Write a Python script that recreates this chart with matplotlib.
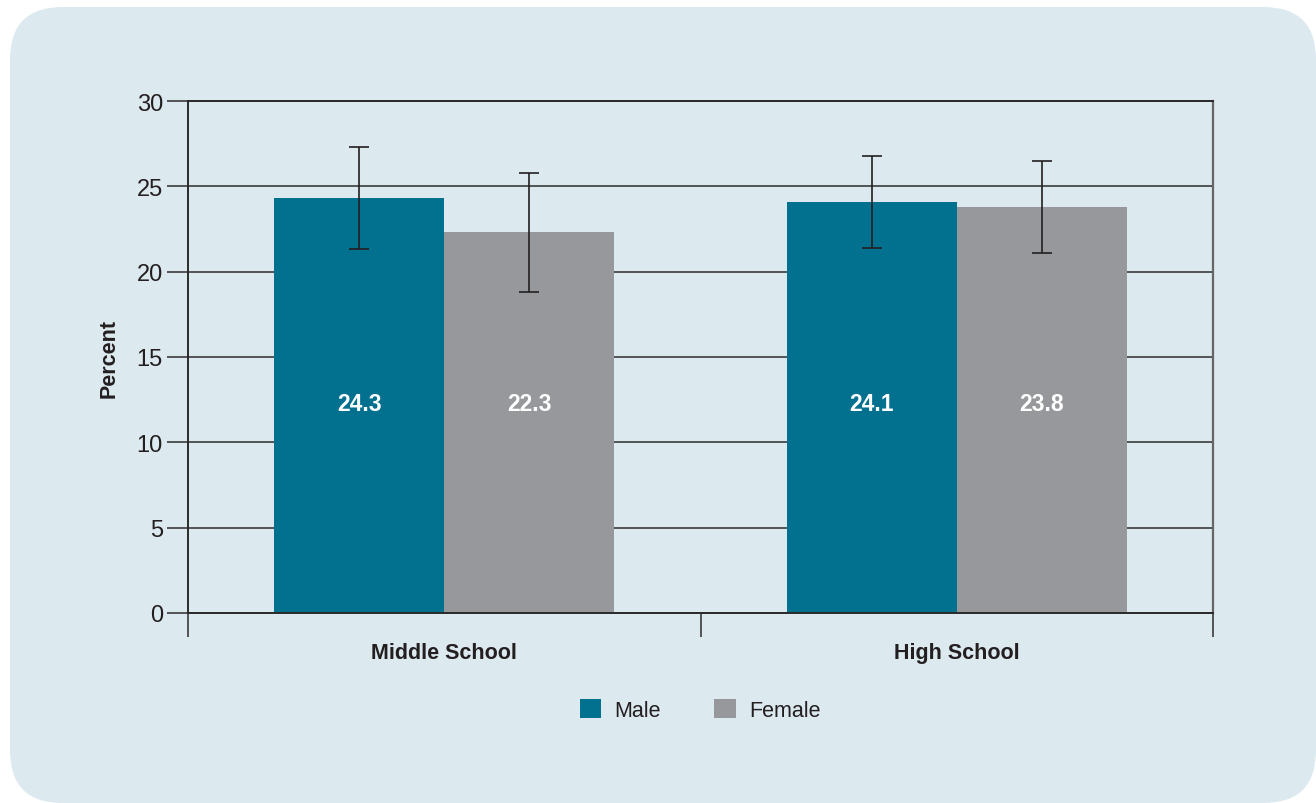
import matplotlib
matplotlib.use("Agg")
import matplotlib.pyplot as plt
from matplotlib.patches import FancyBboxPatch, Patch
import numpy as np

categories = ["Middle School", "High School"]
series_names = ["Male", "Female"]
male_values = [24.3, 24.1]
female_values = [22.3, 23.8]
male_err_low = [21.3, 21.4]
male_err_high = [27.3, 26.8]
female_err_low = [18.8, 21.1]
female_err_high = [25.8, 26.5]
y_ticks = [0, 5, 10, 15, 20, 25, 30]

male_color = "#02708f"
female_color = "#97989c"
bg_color = "#dce9ef"
text_color = "#231f20"

plt.rcParams['font.family'] = ['Liberation Sans', 'DejaVu Sans']

fig = plt.figure(figsize=(13.16, 8.04), dpi=100)
fig.patch.set_facecolor("white")
bg = FancyBboxPatch((10/1316, 0.0), (1306)/1316, (796)/804,
                    boxstyle="round,pad=0,rounding_size=0.04",
                    transform=fig.transFigure, facecolor=bg_color,
                    edgecolor="none", zorder=-10, mutation_aspect=1316/804)
fig.patches.append(bg)

ax = fig.add_axes([188/1316, 1 - 614/804, (1213-188)/1316, (614-102)/804])
ax.set_facecolor("none")

x = np.arange(len(categories))
w = 0.332
ax.bar(x - w/2, male_values, width=w, color=male_color, zorder=2)
ax.bar(x + w/2, female_values, width=w, color=female_color, zorder=2)

m = np.array(male_values)
f = np.array(female_values)
ax.errorbar(x - w/2, m, yerr=[m - np.array(male_err_low), np.array(male_err_high) - m],
            fmt="none", ecolor=text_color, elinewidth=1.2, capsize=7, capthick=1.2, zorder=3)
ax.errorbar(x + w/2, f, yerr=[f - np.array(female_err_low), np.array(female_err_high) - f],
            fmt="none", ecolor=text_color, elinewidth=1.2, capsize=7, capthick=1.2, zorder=3)

for xi, v in zip(x - w/2, male_values):
    ax.text(xi, 12.3, f"{v:.1f}", ha="center", va="center", color="white",
            fontsize=16.5, fontweight="bold", zorder=4)
for xi, v in zip(x + w/2, female_values):
    ax.text(xi, 12.3, f"{v:.1f}", ha="center", va="center", color="white",
            fontsize=16.5, fontweight="bold", zorder=4)

ax.set_xlim(-0.5, 1.5)
ax.set_ylim(0, 30)
ax.set_yticks(y_ticks)
ax.set_yticklabels([str(t) for t in y_ticks], fontsize=17, color=text_color)
ax.yaxis.grid(True, color="#3a3a3a", linewidth=1.2, zorder=0)
ax.set_axisbelow(True)
ax.tick_params(axis="y", length=15, width=1.2, color="#3a3a3a", pad=3)

ax.set_xticks([-0.5, 0.5, 1.5])
ax.set_xticklabels(["", "", ""])
ax.tick_params(axis="x", length=17, width=1.2, color="#3a3a3a")
for xi, c in zip(x, categories):
    ax.text(xi, -2.3, c, ha="center", va="center", fontsize=15.5, fontweight="bold",
            color=text_color)

for s in ["left", "bottom", "top"]:
    ax.spines[s].set_color("#2a2a2a")
    ax.spines[s].set_linewidth(1.4)
ax.spines["right"].set_color("#666666")
ax.spines["right"].set_linewidth(1.6)

ax.set_ylabel("Percent", fontsize=15.5, fontweight="bold", color=text_color, labelpad=12)

handles = [Patch(facecolor=male_color, label="Male"), Patch(facecolor=female_color, label="Female")]
fig.legend(handles=handles, loc="center", bbox_to_anchor=(700/1316, 1 - 711/804), ncol=2,
           frameon=False, fontsize=15.5, handlelength=1.0, handleheight=1.0,
           columnspacing=2.5, handletextpad=0.6, labelcolor=text_color)

fig.savefig("out.png", dpi=100, facecolor=fig.get_facecolor())
